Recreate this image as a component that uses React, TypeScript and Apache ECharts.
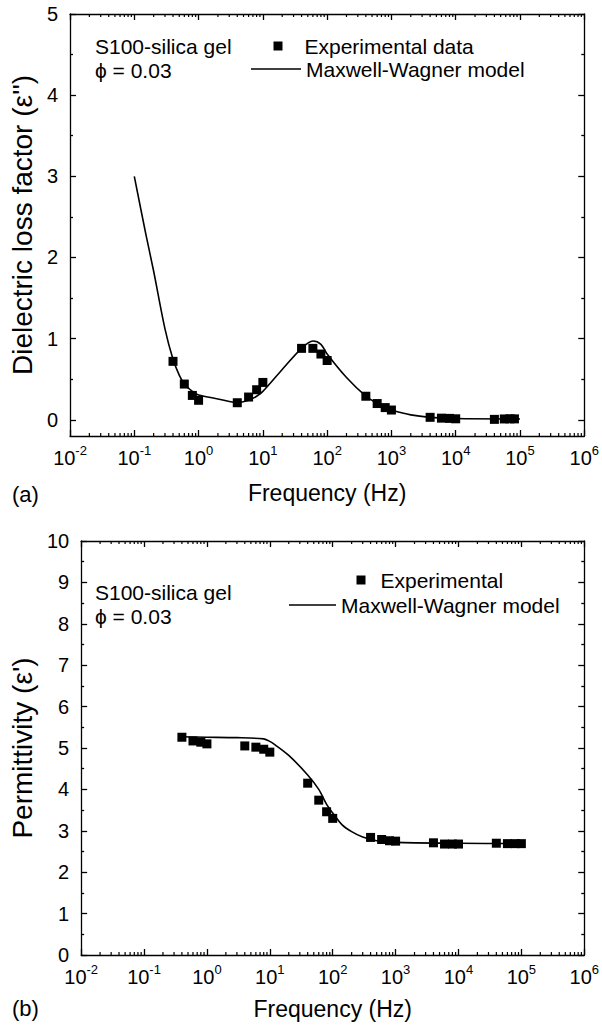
import React, { useEffect, useRef } from 'react';
import * as echarts from 'echarts';

// ---------- (a) Dielectric loss factor ----------
const TOP_EXP_FREQ = [0.4, 0.6, 0.8, 1, 4, 6, 8, 10, 40, 60, 80, 100, 400, 600, 800, 1000, 4000, 6000, 8000, 10000, 40000, 57000, 70000, 82000];
const TOP_EXP_LOSS = [0.72, 0.44, 0.3, 0.24, 0.21, 0.28, 0.37, 0.46, 0.88, 0.88, 0.81, 0.73, 0.29, 0.2, 0.15, 0.12, 0.03, 0.02, 0.017, 0.012, 0.005, 0.01, 0.012, 0.011];
const TOP_MODEL_FREQ = [0.1, 0.15, 0.2, 0.3, 0.4, 0.5, 0.6, 0.8, 1, 2, 4, 6, 8, 10, 20, 40, 60, 80, 100, 200, 400, 600, 800, 1000, 2000, 4000, 10000, 100000];
const TOP_MODEL_LOSS = [3.0, 2.3, 1.83, 1.12, 0.745, 0.55, 0.44, 0.35, 0.305, 0.257, 0.21, 0.24, 0.29, 0.35, 0.62, 0.88, 0.97, 0.93, 0.81, 0.52, 0.29, 0.2, 0.15, 0.12, 0.06, 0.03, 0.015, 0.01];
const TOP_Y_MAJOR = [0, 1, 2, 3, 4, 5];
const TOP_Y_MINOR = [0.5, 1.5, 2.5, 3.5, 4.5];

// ---------- (b) Permittivity ----------
const BOT_EXP_FREQ = [0.4, 0.6, 0.8, 1, 4, 6, 8, 10, 40, 60, 80, 100, 400, 600, 800, 1000, 4000, 6000, 8000, 10000, 40000, 60000, 80000, 100000];
const BOT_EXP_PERM = [5.26, 5.17, 5.14, 5.1, 5.05, 5.02, 4.97, 4.9, 4.15, 3.74, 3.46, 3.3, 2.84, 2.79, 2.76, 2.75, 2.71, 2.68, 2.68, 2.68, 2.7, 2.69, 2.69, 2.69];
const BOT_MODEL_FREQ = [0.35, 1, 3, 8, 10, 12, 20, 40, 60, 80, 100, 140, 200, 300, 500, 1000, 10000, 100000];
const BOT_MODEL_PERM = [5.27, 5.26, 5.25, 5.22, 5.16, 5.08, 4.82, 4.35, 4.0, 3.64, 3.43, 3.15, 2.98, 2.85, 2.76, 2.72, 2.7, 2.69];

// ---------- log-axis minor ticks ----------
const DECADES = [0.01, 0.1, 1, 10, 100, 1000, 10000, 100000];
const MINOR_MULTIPLIERS = [2, 3, 4, 5, 6, 7, 8, 9];

const FONT = '"Liberation Sans", Arial, Helvetica, sans-serif';
const BLACK = '#000';

const zip = (a: number[], b: number[]) => a.map((v, i) => [v, b[i]]);

export default function App() {
  const ref = useRef<HTMLDivElement>(null);

  useEffect(() => {
    document.body.style.margin = '0';
    const chart = echarts.init(ref.current!, null, { renderer: 'svg' });

    const minorTickData = DECADES.flatMap((d) => MINOR_MULTIPLIERS.map((m) => [d * m, 1]));

    const lineStyle = { color: BLACK, width: 1.3 };
    const xLabel = {
      interval: 0,
      margin: 8,
      formatter: (v: number) => `{b|10}{s|${Math.round(Math.log10(v))}}`,
      rich: {
        b: { fontSize: 20, fontFamily: FONT, color: BLACK, lineHeight: 24, verticalAlign: 'bottom' },
        s: { fontSize: 13, fontFamily: FONT, color: BLACK, lineHeight: 13, verticalAlign: 'top' },
      },
    };
    const xBase = (grid: number, pos: 'bottom' | 'top') => ({
      type: 'log',
      logBase: 10,
      min: 0.01,
      max: 1e6,
      gridIndex: grid,
      position: pos,
      axisLine: { show: true, onZero: false, lineStyle },
      axisTick: { show: true, inside: true, length: 6, lineStyle },
      splitLine: { show: false },
    });
    const xNameStyle = { fontSize: 23, fontFamily: FONT, color: BLACK };
    const yNameStyle = { fontSize: 28, fontFamily: FONT, color: BLACK };
    const yLabel = { fontSize: 20, fontFamily: FONT, color: BLACK, margin: 12 };

    const minorRender = (params: any, api: any) => {
      const x = api.coord([api.value(0), api.value(1)])[0];
      const cs = params.coordSys;
      const st = { stroke: BLACK, lineWidth: 1.2 };
      return {
        type: 'group',
        children: [
          { type: 'line', shape: { x1: x, y1: cs.y + cs.height, x2: x, y2: cs.y + cs.height - 3 }, style: st },
          { type: 'line', shape: { x1: x, y1: cs.y, x2: x, y2: cs.y + 3 }, style: st },
        ],
      };
    };

    const legendText = (padLeft: number) => ({
      fontSize: 21, fontFamily: FONT, color: BLACK, lineHeight: 22, padding: [0, 0, 0, padLeft],
    });
    const legendCommon = { padding: 0, selectedMode: false, icon: 'rect', itemStyle: { color: BLACK, opacity: 1 } };

    const option: any = {
      animation: false,
      backgroundColor: '#fff',
      grid: [
        { left: 65, top: 14, width: 523, height: 422 },
        { left: 72, top: 541, width: 513, height: 414 },
      ],
      xAxis: [
        { ...xBase(0, 'bottom'), axisLabel: xLabel, name: 'Frequency (Hz)', nameLocation: 'middle', nameGap: 45, nameTextStyle: xNameStyle },
        { ...xBase(0, 'top'), axisLabel: { show: false } },
        { ...xBase(1, 'bottom'), axisLabel: xLabel, name: 'Frequency (Hz)', nameLocation: 'middle', nameGap: 42, nameTextStyle: xNameStyle },
        { ...xBase(1, 'top'), axisLabel: { show: false } },
      ],
      yAxis: [
        {
          type: 'value', gridIndex: 0, min: -0.2, max: 5, position: 'left',
          axisLine: { show: true, onZero: false, lineStyle },
          axisTick: { inside: true, length: 6, lineStyle, customValues: TOP_Y_MAJOR },
          axisLabel: { ...yLabel, customValues: TOP_Y_MAJOR },
          splitLine: { show: false },
          name: "Dielectric loss factor (\u03b5'')", nameLocation: 'middle', nameGap: 29, nameRotate: 90, nameTextStyle: yNameStyle,
        },
        {
          type: 'value', gridIndex: 0, min: -0.2, max: 5, position: 'left',
          axisLine: { show: false },
          axisTick: { inside: true, length: 3, lineStyle, customValues: TOP_Y_MINOR },
          axisLabel: { show: false }, splitLine: { show: false },
        },
        {
          type: 'value', gridIndex: 0, min: -0.2, max: 5, position: 'right',
          axisLine: { show: true, onZero: false, lineStyle },
          axisTick: { inside: true, length: 6, lineStyle, customValues: TOP_Y_MAJOR },
          axisLabel: { show: false }, splitLine: { show: false },
        },
        {
          type: 'value', gridIndex: 0, min: -0.2, max: 5, position: 'right',
          axisLine: { show: false },
          axisTick: { inside: true, length: 3, lineStyle, customValues: TOP_Y_MINOR },
          axisLabel: { show: false }, splitLine: { show: false },
        },
        {
          type: 'value', gridIndex: 1, min: 0, max: 10, interval: 1, position: 'left',
          axisLine: { show: true, onZero: false, lineStyle },
          axisTick: { inside: true, length: 6, lineStyle },
          minorTick: { show: true, splitNumber: 2, length: 3, lineStyle },
          axisLabel: yLabel,
          splitLine: { show: false },
          name: "Permittivity (\u03b5')", nameLocation: 'middle', nameGap: 36, nameRotate: 90, nameTextStyle: yNameStyle,
        },
        {
          type: 'value', gridIndex: 1, min: 0, max: 10, interval: 1, position: 'right',
          axisLine: { show: true, onZero: false, lineStyle },
          axisTick: { inside: true, length: 6, lineStyle },
          minorTick: { show: true, splitNumber: 2, length: 3, lineStyle },
          axisLabel: { show: false }, splitLine: { show: false },
        },
      ],
      legend: [
        { ...legendCommon, data: ['Experimental data'], left: 273.5, top: 35, itemWidth: 9, itemHeight: 9, textStyle: legendText(17) },
        { ...legendCommon, data: ['Maxwell-Wagner model'], left: 251, top: 58, itemWidth: 50, itemHeight: 1.6, textStyle: legendText(0) },
        { ...legendCommon, data: ['Experimental'], left: 356.5, top: 569, itemWidth: 9, itemHeight: 9, textStyle: legendText(10) },
        { ...legendCommon, data: ['Maxwell-Wagner model'], left: 289, top: 594, itemWidth: 47, itemHeight: 1.6, textStyle: legendText(0) },
      ],
      graphic: [
        { type: 'text', x: 95, y: 46, style: { text: 'S100-silica gel', font: `21px ${FONT}`, fill: BLACK, verticalAlign: 'middle' } },
        { type: 'text', x: 95, y: 70, style: { text: '\u03d5 = 0.03', font: `21px ${FONT}`, fill: BLACK, verticalAlign: 'middle' } },
        { type: 'text', x: 95, y: 592, style: { text: 'S100-silica gel', font: `21px ${FONT}`, fill: BLACK, verticalAlign: 'middle' } },
        { type: 'text', x: 95, y: 616, style: { text: '\u03d5 = 0.03', font: `21px ${FONT}`, fill: BLACK, verticalAlign: 'middle' } },
        { type: 'text', x: 12, y: 494, style: { text: '(a)', font: `22px ${FONT}`, fill: BLACK, verticalAlign: 'middle' } },
        { type: 'text', x: 12, y: 1008, style: { text: '(b)', font: `22px ${FONT}`, fill: BLACK, verticalAlign: 'middle' } },
      ],
      series: [
        {
          name: 'Maxwell-Wagner model', type: 'line', xAxisIndex: 0, yAxisIndex: 0,
          data: zip(TOP_MODEL_FREQ, TOP_MODEL_LOSS), symbol: 'none', smooth: 0.3,
          lineStyle: { color: BLACK, width: 1.6 }, itemStyle: { color: BLACK }, z: 2,
        },
        {
          name: 'Experimental data', type: 'scatter', xAxisIndex: 0, yAxisIndex: 0,
          data: zip(TOP_EXP_FREQ, TOP_EXP_LOSS), symbol: 'rect', symbolSize: 9,
          itemStyle: { color: BLACK, opacity: 1 }, z: 3,
        },
        {
          name: 'Maxwell-Wagner model', type: 'line', xAxisIndex: 2, yAxisIndex: 4,
          data: zip(BOT_MODEL_FREQ, BOT_MODEL_PERM), symbol: 'none', smooth: 0.3,
          lineStyle: { color: BLACK, width: 1.6 }, itemStyle: { color: BLACK }, z: 2,
        },
        {
          name: 'Experimental', type: 'scatter', xAxisIndex: 2, yAxisIndex: 4,
          data: zip(BOT_EXP_FREQ, BOT_EXP_PERM), symbol: 'rect', symbolSize: 9,
          itemStyle: { color: BLACK, opacity: 1 }, z: 3,
        },
        { type: 'custom', xAxisIndex: 0, yAxisIndex: 0, data: minorTickData, renderItem: minorRender, silent: true, clip: false },
        { type: 'custom', xAxisIndex: 2, yAxisIndex: 4, data: minorTickData, renderItem: minorRender, silent: true, clip: false },
      ],
    };

    chart.setOption(option);
    return () => chart.dispose();
  }, []);

  return <div ref={ref} style={{ width: 602, height: 1026 }} />;
}
